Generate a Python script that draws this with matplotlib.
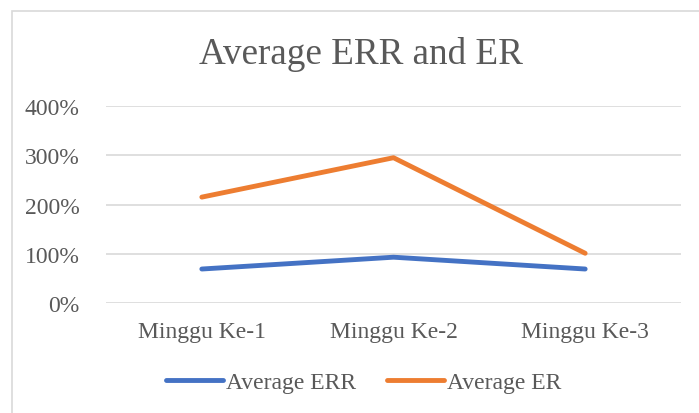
import matplotlib.pyplot as plt
from matplotlib.patches import Rectangle
from matplotlib.ticker import FuncFormatter

minggu = ["Minggu Ke-1", "Minggu Ke-2", "Minggu Ke-3"]
avg_err = [0.69, 0.93, 0.69]
avg_er = [2.15, 2.95, 1.01]

W, H = 699, 414
plt.rcParams['font.family'] = ['Liberation Serif', 'DejaVu Serif']
txt = "#595959"

fig = plt.figure(figsize=(W / 100, H / 100), dpi=100)
# chart border (cut off at right and bottom)
fig.patches.append(Rectangle((12 / W, -0.1), 1.1, 1 - 12 / H + 0.1, transform=fig.transFigure,
                             fill=False, edgecolor="#d9d9d9", linewidth=1.2))

ax = fig.add_axes([106 / W, 110 / H, 575 / W, 197 / H])
x = range(len(minggu))
ax.plot(x, avg_err, color="#4472C4", lw=3.5, solid_capstyle="round", solid_joinstyle="round", label="Average ERR")
ax.plot(x, avg_er, color="#ED7D31", lw=3.5, solid_capstyle="round", solid_joinstyle="round", label="Average ER")

ax.set_xlim(-0.5, 2.5)
ax.set_ylim(0, 4)
ax.set_yticks([0, 1, 2, 3, 4])
ax.yaxis.set_major_formatter(FuncFormatter(lambda v, p: f"{v * 100:.0f}%"))
ax.set_xticks(list(x))
ax.set_xticklabels(minggu)
ax.grid(axis="y", color="#d9d9d9", lw=1.2)
ax.set_axisbelow(True)
for s in ax.spines.values():
    s.set_visible(False)
ax.tick_params(length=0, colors=txt)
ax.tick_params(axis="x", labelsize=17, pad=13)
ax.tick_params(axis="y", labelsize=17, pad=19)

fig.text(0.517, 1 - 55 / H, "Average ERR and ER", ha="center", va="center", fontsize=26.7, color=txt)

leg = fig.legend(loc="center", bbox_to_anchor=(364 / W, 1 - 383 / H), ncol=2, frameon=False,
                 fontsize=17, handlelength=2.4, handletextpad=0.15, columnspacing=1.3)
for t in leg.get_texts():
    t.set_color(txt)

fig.savefig("out.png", dpi=100)
